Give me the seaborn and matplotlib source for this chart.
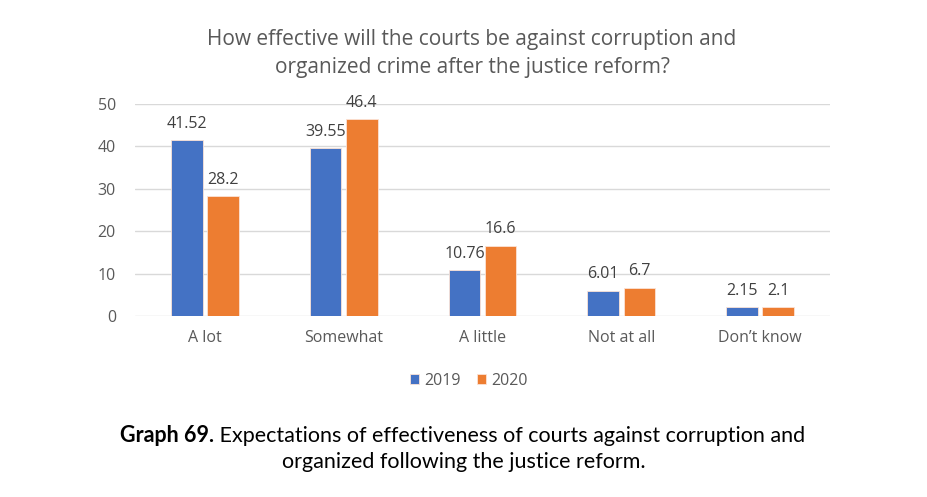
import pandas as pd
import matplotlib.pyplot as plt
import seaborn as sns

# data
categories = ['A lot', 'Somewhat', 'A little', 'Not at all', 'Don\u2019t know']
years = ['2019', '2020']
values_2019 = [41.52, 39.55, 10.76, 6.01, 2.15]
values_2020 = [28.2, 46.4, 16.6, 6.7, 2.1]

df = pd.DataFrame({
    'category': categories * 2,
    'year': [years[0]] * len(categories) + [years[1]] * len(categories),
    'value': values_2019 + values_2020,
})

sns.set_theme(style='white')
plt.rcParams['font.family'] = ['Open Sans', 'DejaVu Sans']

fig = plt.figure(figsize=(9.27, 4.97), dpi=100)
ax = fig.add_axes([0.146, 0.364, 0.749, 0.427])

sns.barplot(data=df, x='category', y='value', hue='year',
            palette=['#4472C4', '#ED7D31'], saturation=1, width=0.52, gap=0.12,
            edgecolor='#FBE3D6', linewidth=0.6, ax=ax, zorder=3)

for cont in ax.containers:
    ax.bar_label(cont, labels=[f'{v:g}' for v in cont.datavalues],
                 padding=6, fontsize=11.5, color='#404040')

ax.set_ylim(0, 50)
ax.set_yticks(range(0, 51, 10))
ax.grid(axis='y', color='#D9D9D9', linewidth=1, zorder=0)
for s in ax.spines.values():
    s.set_visible(False)
ax.tick_params(axis='both', length=0, labelsize=11.5, colors='#595959')
ax.tick_params(axis='x', pad=10)
ax.tick_params(axis='y', pad=14)
ax.set_xlabel('')
ax.set_ylabel('')

ax.set_title('How effective will the courts be against corruption and\norganized crime after the justice reform?',
             fontsize=15, color='#595959', pad=22, linespacing=1.45, x=0.485)

leg = ax.legend(loc='upper center', bbox_to_anchor=(0.48, -0.20), ncol=2,
                frameon=False, fontsize=11.5, handlelength=0.6, handleheight=0.6,
                handletextpad=0.3, columnspacing=1.0)
for t in leg.get_texts():
    t.set_color('#595959')

# caption with a bold lead-in
bold = fig.text(0.129, 1 - 436 / 497, 'Graph 69.', fontsize=15.5, fontweight='bold',
                color='black', ha='left', va='center', family=['Lato', 'DejaVu Sans'])
ax.annotate(' Expectations of effectiveness of courts against corruption and',
            xy=(1, 0), xycoords=bold, va='bottom', ha='left', fontsize=15.5,
            color='black', family=['Lato', 'DejaVu Sans'], annotation_clip=False)
fig.text(0.5, 1 - 462 / 497, 'organized following the justice reform.', fontsize=15.5,
         color='black', ha='center', va='center', family=['Lato', 'DejaVu Sans'])

plt.savefig('out.png', dpi=100)
